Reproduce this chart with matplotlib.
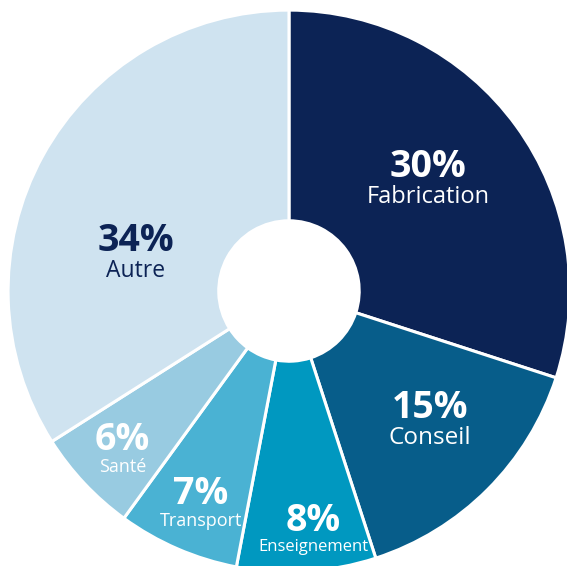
import numpy as np
from matplotlib import pyplot as plt

sectors = ['Fabrication', 'Conseil', 'Enseignement', 'Transport', 'Santé', 'Autre']
shares = [30, 15, 8, 7, 6, 34]
colors = ['#0c2355', '#075d8a', '#0098c0', '#4ab2d3', '#98cbe1', '#cfe3f0']
text_colors = ['white', 'white', 'white', 'white', 'white', '#0c2355']

# label placement (radius fraction, angle tweak in degrees)
label_r = [0.626, 0.69, 0.88, 0.84, 0.835, 0.56]
label_da = [1.8, 1.7, 2, 1.5, 1.5, 16.3]
name_size = [17, 17.5, 12, 13, 13, 16.5]

plt.rcParams['font.family'] = ['Open Sans', 'DejaVu Sans']

fig = plt.figure(figsize=(5.67, 5.66), dpi=100)
ax = fig.add_axes([0, 0, 1, 1])

wedges, _ = ax.pie(shares, colors=colors, startangle=90, counterclock=False,
                   radius=1.0, wedgeprops=dict(width=0.75, edgecolor='white', linewidth=2.2))

for w, name, val, tc, r, da, ns in zip(wedges, sectors, shares, text_colors,
                                       label_r, label_da, name_size):
    mid = np.deg2rad((w.theta1 + w.theta2) / 2 + da)
    x, y = r * np.cos(mid), r * np.sin(mid)
    ax.text(x, y + 0.022, f'{val}%', ha='center', va='baseline', color=tc,
            fontsize=27, fontweight='bold')
    ax.text(x, y - 0.008, name, ha='center', va='top', color=tc, fontsize=ns)

ax.set_xlim(-1.028, 0.989)
ax.set_ylim(-0.979, 1.036)
ax.set_aspect('equal')
ax.axis('off')

plt.savefig('out.png', dpi=100)
